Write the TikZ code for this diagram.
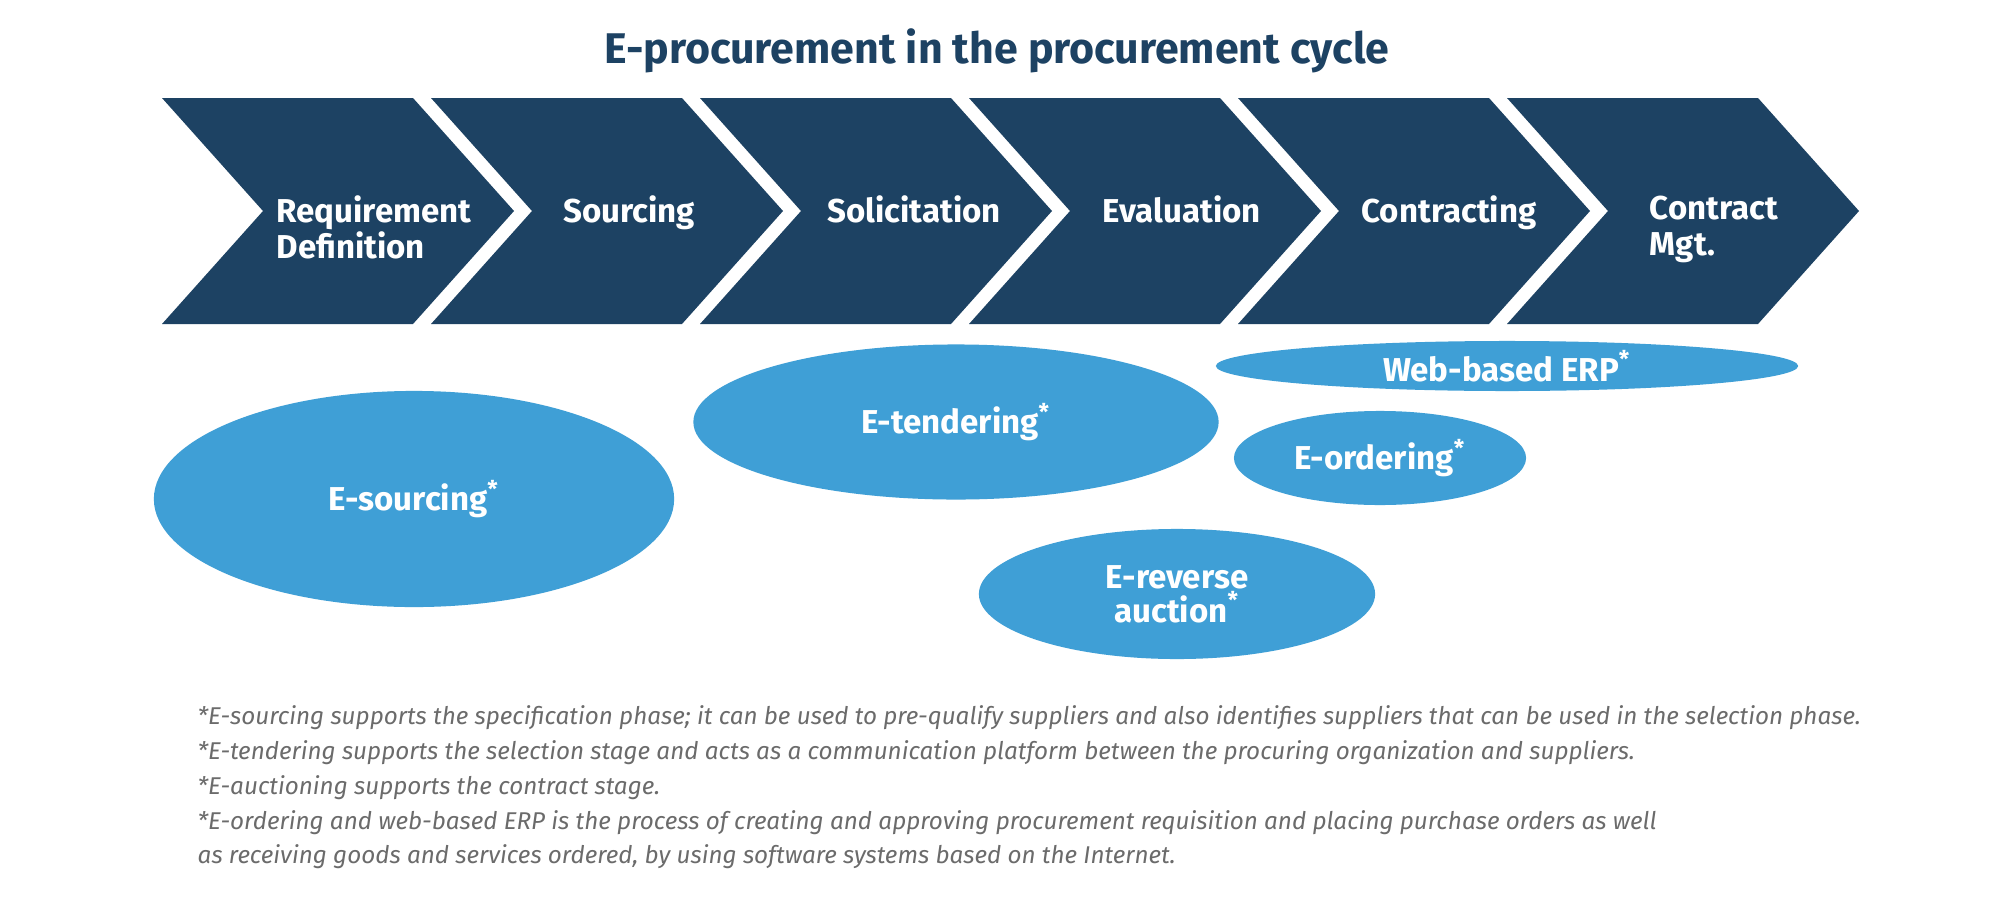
\documentclass[tikz,border=0pt]{standalone}
\usepackage{fontspec}
\setmainfont{Fira Sans}
\usetikzlibrary{shapes.geometric}

\definecolor{navy}{HTML}{1D4263}
\definecolor{skyblue}{HTML}{3F9FD6}
\definecolor{notegray}{HTML}{6B6B6B}

\tikzset{
  chev/.style={fill=navy},
  phase/.style={font=\bfseries\fontsize{9.4}{10.2}\selectfont, text=white, align=left, anchor=north, inner sep=0pt},
  etool/.style={ellipse, fill=skyblue, text=white, inner sep=0pt, align=center, font=\bfseries\fontsize{9.4}{10.2}\selectfont},
}

\begin{document}
\begin{tikzpicture}[x=0.01cm, y=-0.01cm]
\def\dy{98}  
\def\ty{195} 

\fill[white] (0,0) rectangle (1997,915);
\useasboundingbox (0,0) rectangle (1997,915);

\node[font=\bfseries\fontsize{12.2}{14}\selectfont, text=navy] (title) at (997,51) {E-procurement in the procurement cycle};

% phases of the cycle
\fill[chev] (162,\dy) -- ++(251,0) -- ++(101,113) -- ++(-101,113) -- ++(-251,0) -- ++(101,-113) -- cycle;
\fill[chev] (431,\dy) -- ++(251,0) -- ++(101,113) -- ++(-101,113) -- ++(-251,0) -- ++(101,-113) -- cycle;
\fill[chev] (700,\dy) -- ++(251,0) -- ++(101,113) -- ++(-101,113) -- ++(-251,0) -- ++(101,-113) -- cycle;
\fill[chev] (969,\dy) -- ++(251,0) -- ++(101,113) -- ++(-101,113) -- ++(-251,0) -- ++(101,-113) -- cycle;
\fill[chev] (1238,\dy) -- ++(251,0) -- ++(101,113) -- ++(-101,113) -- ++(-251,0) -- ++(101,-113) -- cycle;
\fill[chev] (1507,\dy) -- ++(251,0) -- ++(101,113) -- ++(-101,113) -- ++(-251,0) -- ++(101,-113) -- cycle;

\node[phase] (req) at (374,\ty) {Requirement\\Definition};
\node[phase] (sour) at (629,\ty) {Sourcing};
\node[phase] (soli) at (914,\ty) {Solicitation};
\node[phase] (eval) at (1182,\ty) {Evaluation};
\node[phase] (contr) at (1449,\ty) {Contracting};
\node[phase] (mgt) at (1714,\ty) {Contract\\Mgt.};

% e-procurement tools
\node[etool, minimum width=5.2cm, minimum height=2.16cm] (esrc) at (414,499) {E-sourcing\textsuperscript{*}};
\node[etool, minimum width=5.25cm, minimum height=1.55cm] (etend) at (956,422) {E-tendering\textsuperscript{*}};
\node[etool, minimum width=5.82cm, minimum height=0.5cm] (erp) at (1507,366) {Web-based ERP\textsuperscript{*}};
\node[etool, minimum width=2.92cm, minimum height=0.94cm] (eord) at (1380,458) {E-ordering\textsuperscript{*}};
\node[etool, minimum width=3.96cm, minimum height=1.3cm] (eauc) at (1177,594) {E-reverse\\[-0.5pt]auction\textsuperscript{*}};

\node[anchor=north west, align=left, inner sep=0pt, text=notegray, font=\itshape\fontsize{6.9}{9.9}\selectfont] (notes) at (197,705)
{*E-sourcing supports the specification phase; it can be used to pre-qualify suppliers and also identifies suppliers that can be used in the selection phase.\\
*E-tendering supports the selection stage and acts as a communication platform between the procuring organization and suppliers.\\
*E-auctioning supports the contract stage.\\
*E-ordering and web-based ERP is the process of creating and approving procurement requisition and placing purchase orders as well\\
as receiving goods and services ordered, by using software systems based on the Internet.};
\end{tikzpicture}
\end{document}
